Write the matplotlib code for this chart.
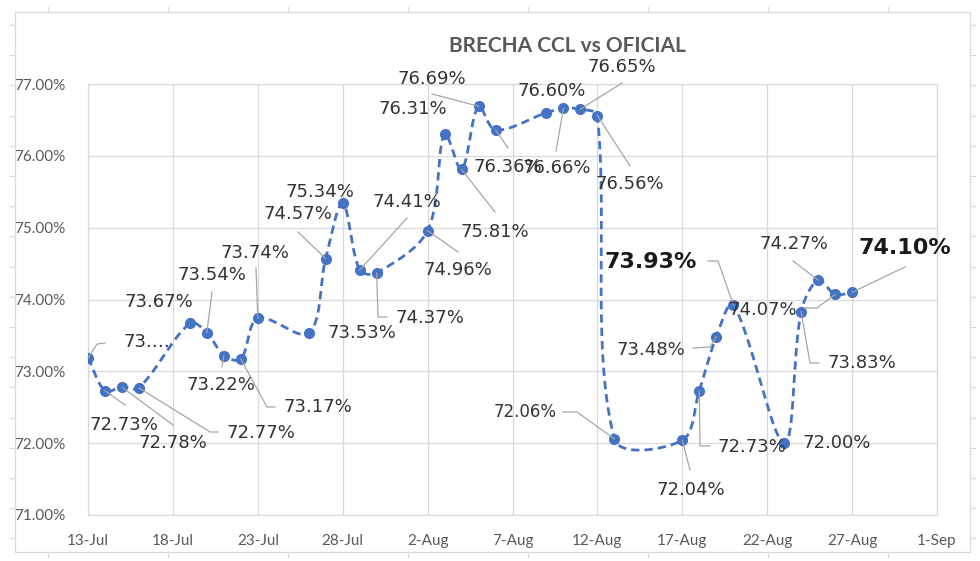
import matplotlib
matplotlib.use('Agg')
import matplotlib.pyplot as plt
import matplotlib.dates as mdates
from matplotlib.lines import Line2D
from matplotlib.transforms import IdentityTransform
import numpy as np
import pandas as pd

# ---------------- data ----------------
dates = ['2021-07-13', '2021-07-14', '2021-07-15', '2021-07-16', '2021-07-19',
         '2021-07-20', '2021-07-21', '2021-07-22', '2021-07-23', '2021-07-26',
         '2021-07-27', '2021-07-28', '2021-07-29', '2021-07-30', '2021-08-02',
         '2021-08-03', '2021-08-04', '2021-08-05', '2021-08-06', '2021-08-09',
         '2021-08-10', '2021-08-11', '2021-08-12', '2021-08-13', '2021-08-17',
         '2021-08-18', '2021-08-19', '2021-08-20', '2021-08-23', '2021-08-24',
         '2021-08-25', '2021-08-26', '2021-08-27']
brecha = [73.19, 72.73, 72.78, 72.77, 73.67,
          73.54, 73.22, 73.17, 73.74, 73.53,
          74.57, 75.34, 74.41, 74.37, 74.96,
          76.31, 75.81, 76.69, 76.36, 76.60,
          76.66, 76.65, 76.56, 72.06, 72.04,
          72.73, 73.48, 73.93, 72.00, 73.83,
          74.27, 74.07, 74.10]
title = 'BRECHA CCL vs OFICIAL'
y_ticks = [71, 72, 73, 74, 75, 76, 77]
x_start, x_end = '2021-07-13', '2021-09-01'

label_texts = [f'{v:.2f}%' for v in brecha]
label_texts[0] = '73.…'          # truncated in the original
bold_labels = {27, 32}

# ---------------- layout (image pixels, y from top) ----------------
W, H = 980, 561
label_pos = [(147, 342), (124, 425), (173, 443), (261, 433), (159, 302),
             (212, 275), (221, 385), (318, 407), (255, 253), (362, 333),
             (298, 214), (320, 192), (407, 202), (430, 318), (458, 270),
             (413, 109), (495, 232), (432, 79), (508, 167), (552, 91),
             (557, 168), (622, 67), (630, 184), (525, 412), (691, 490),
             (752, 447), (651, 350), (651, 262), (837, 443), (862, 363),
             (794, 244), (763, 310), (905, 248)]
leaders = [[(97, 344), (105, 343)], [(125, 405)], [(173, 425)], [(210, 432), (218, 432)], [],
           [(212, 292)], [(222, 367)], [(267, 407), (275, 407)], [(256, 268)], [],
           [(298, 232)], [], [(407, 218)], [(378, 317), (387, 317)], [(458, 252)],
           [], [(495, 212)], [(432, 94)], [(508, 148)], [],
           [(556, 151)], [(622, 83)], [(630, 166)], [(577, 412), (563, 412)], [(690, 470)],
           [(700, 446), (710, 446)], [(710, 347), (693, 348)], [(718, 261), (708, 261)], [],
           [(810, 363), (819, 363)],
           [(793, 261)], [(817, 308), (805, 308)], [(905, 267)]]

BLUE = '#4472C4'
GRID = '#d9d9d9'
TXT = '#595959'

fig = plt.figure(figsize=(W / 100, H / 100), dpi=100)
ax = fig.add_axes([88 / W, (H - 515) / H, (937 - 88) / W, (515 - 84) / H])

xd = mdates.date2num(pd.to_datetime(dates))
ax.set_xlim(mdates.date2num(pd.Timestamp(x_start)), mdates.date2num(pd.Timestamp(x_end)))
ax.set_ylim(y_ticks[0], y_ticks[-1])

ax.xaxis.set_major_locator(mdates.DayLocator(interval=5))
ax.set_xticks(mdates.date2num(pd.date_range(x_start, x_end, freq='5D')))
ax.xaxis.set_major_formatter(mdates.DateFormatter('%-d-%b'))
ax.set_yticks(y_ticks)
ax.yaxis.set_major_formatter(matplotlib.ticker.FuncFormatter(lambda v, p: f'{v:.2f}%'))
ax.tick_params(length=0, labelsize=11, labelcolor=TXT)
ax.tick_params(axis='x', pad=14)
ax.tick_params(axis='y', pad=16)
for lab in ax.get_xticklabels() + ax.get_yticklabels():
    lab.set_fontfamily('Lato')
ax.grid(True, color=GRID, lw=0.9)
for s in ax.spines.values():
    s.set_color(GRID)
    s.set_linewidth(0.9)
ax.set_axisbelow(True)

# smoothed line (Excel-like bezier, computed in display space)
pts = ax.transData.transform(np.column_stack([xd, brecha]))
n = len(pts)
curve = [pts[0]]
for i in range(n - 1):
    p0 = pts[i - 1] if i > 0 else pts[i]
    p1 = pts[i]
    p2 = pts[i + 1]
    p3 = pts[i + 2] if i + 2 < n else pts[i + 1]
    d01 = np.linalg.norm(p1 - p0)
    d12 = np.linalg.norm(p2 - p1)
    d23 = np.linalg.norm(p3 - p2)
    f1 = d12 / (d01 + d12) / 3 if d01 + d12 > 0 else 0
    f2 = d12 / (d12 + d23) / 3 if d12 + d23 > 0 else 0
    b1 = p1 + (p2 - p0) * f1
    b2 = p2 - (p3 - p1) * f2
    t = np.linspace(0, 1, 30)[1:, None]
    seg = (1 - t) ** 3 * p1 + 3 * (1 - t) ** 2 * t * b1 + 3 * (1 - t) * t ** 2 * b2 + t ** 3 * p2
    curve.extend(seg)
curve = ax.transData.inverted().transform(np.array(curve))
ax.plot(curve[:, 0], curve[:, 1], color=BLUE, lw=2.0, linestyle=(0, (3, 1.8)), zorder=3)
ax.plot(xd, brecha, 'o', ms=7, color=BLUE, zorder=4)

# leaders and labels
for i in range(n):
    px, py = pts[i]
    if leaders[i]:
        xs = [px] + [v[0] for v in leaders[i]]
        ys = [py] + [H - v[1] for v in leaders[i]]
        fig.add_artist(Line2D(xs, ys, transform=IdentityTransform(), color='#a6a6a6', lw=0.9, zorder=2))
    cx, cy = label_pos[i]
    if i in bold_labels:
        fig.text(cx / W, 1 - cy / H, label_texts[i], ha='center', va='center',
                 fontsize=16, fontweight='bold', color='#1a1a1a', family='DejaVu Sans')
    else:
        fs = 12 if i == 23 else 13
        fig.text(cx / W, 1 - cy / H, label_texts[i], ha='center', va='center',
                 fontsize=fs, color='#333333', family='DejaVu Sans')

fig.text(567 / W, 1 - 46 / H, title, ha='center', va='center', fontsize=15,
         fontweight='bold', color=TXT, family='Lato')

# outer frame with ruler-like ticks
def fl(xs, ys):
    fig.add_artist(Line2D([x / W for x in xs], [1 - y / H for y in ys],
                          transform=fig.transFigure, color=GRID, lw=0.9))

fl([15, 970, 970, 15, 15], [12, 12, 552, 552, 12])
for k in range(18):
    yy = 25 + 30.2 * k
    fl([10, 15], [yy, yy])
    fl([970, 975], [yy, yy])
for k in range(8):
    xx = 48 + 120 * k
    fl([xx, xx], [7, 12])
    fl([xx, xx], [552, 557])

fig.savefig('out.png', dpi=100)
